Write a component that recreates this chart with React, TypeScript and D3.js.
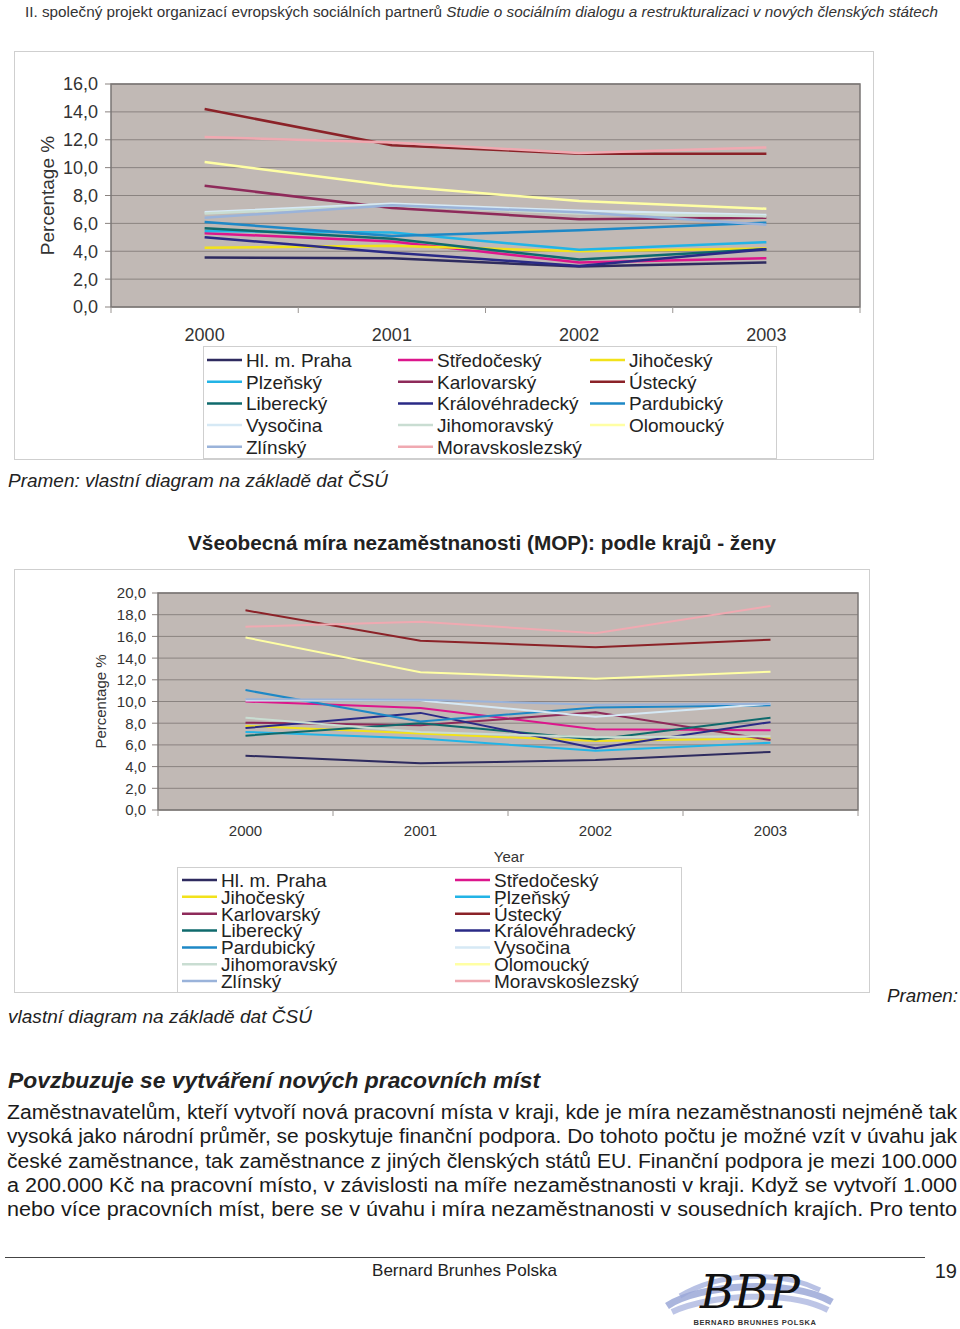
import React from 'react';
import * as d3 from 'd3';

const years = ['2000', '2001', '2002', '2003'];

const regions = [
  'Hl. m. Praha', 'Středočeský', 'Jihočeský', 'Plzeňský', 'Karlovarský', 'Ústecký',
  'Liberecký', 'Královéhradecký', 'Pardubický', 'Vysočina', 'Jihomoravský', 'Olomoucký',
  'Zlínský', 'Moravskoslezský',
];

const regionColors = [
  '#2E2B5F', '#DC168C', '#F2E21A', '#22B4E6', '#8E2A5A', '#8B2228',
  '#0F6A6C', '#2A2A86', '#1E88C6', '#D6E9F5', '#C9DDD2', '#FFFFA4',
  '#9AB3DA', '#F0A9B1',
];

// first chart (celkem / all), per region, 2000–2003
const topValues = [
  [3.55, 3.5, 2.9, 3.2],
  [5.3, 4.7, 3.2, 3.5],
  [4.25, 4.4, 4.0, 4.2],
  [5.45, 5.35, 4.1, 4.65],
  [8.7, 7.1, 6.3, 6.4],
  [14.2, 11.6, 11.0, 11.0],
  [5.65, 4.9, 3.4, 4.15],
  [5.0, 3.9, 2.95, 4.15],
  [6.1, 5.1, 5.5, 6.05],
  [6.8, 7.4, 6.9, 6.6],
  [6.7, 7.3, 6.7, 6.5],
  [10.4, 8.7, 7.6, 7.05],
  [6.4, 7.3, 6.8, 5.9],
  [12.2, 11.8, 11.05, 11.45],
];

// second chart (ženy / women)
const bottomValues = [
  [5.0, 4.3, 4.6, 5.35],
  [10.0, 9.4, 7.45, 7.35],
  [7.75, 7.05, 6.35, 6.6],
  [7.2, 6.6, 5.45, 6.2],
  [8.05, 7.8, 9.0, 6.45],
  [18.4, 15.6, 15.0, 15.7],
  [6.85, 8.0, 6.5, 8.5],
  [7.55, 8.95, 5.7, 8.1],
  [11.05, 8.15, 9.45, 9.65],
  [10.1, 10.1, 8.6, 9.8],
  [8.5, 7.2, 6.7, 6.8],
  [15.9, 12.7, 12.1, 12.75],
  [10.2, 10.15, 9.7, 9.8],
  [16.9, 17.35, 16.3, 18.8],
];

const topTicks = [0, 2, 4, 6, 8, 10, 12, 14, 16];
const bottomTicks = [0, 2, 4, 6, 8, 10, 12, 14, 16, 18, 20];

const bodyLines = [
  'Zaměstnavatelům, kteří vytvoří nová pracovní místa v kraji, kde je míra nezaměstnanosti nejméně tak',
  'vysoká jako národní průměr, se poskytuje finanční podpora. Do tohoto počtu je možné vzít v úvahu jak',
  'české zaměstnance, tak zaměstnance z jiných členských států EU. Finanční podpora je mezi 100.000',
  'a 200.000 Kč na pracovní místo, v závislosti na míře nezaměstnanosti v kraji. Když se vytvoří 1.000',
  'nebo více pracovních míst, bere se v úvahu i míra nezaměstnanosti v sousedních krajích. Pro tento',
];

const FONT = '"Liberation Sans", Arial, Helvetica, sans-serif';
const fmt = (v: number) => v.toFixed(1).replace('.', ',');

type ChartProps = {
  values: number[][];
  ticks: number[];
  left: number; top: number; right: number; bottom: number;
  labelSize: number; labelX: number; xLabelY: number;
  titleX: number; titleSize: number;
  lineWidth: number;
};

function LineChart(p: ChartProps) {
  const x = d3.scaleBand<string>().domain(years).range([p.left, p.right]).paddingInner(0).paddingOuter(0);
  const y = d3.scaleLinear().domain([0, d3.max(p.ticks) as number]).range([p.bottom, p.top]);
  const line = d3.line<number>()
    .x((_, i) => (x(years[i]) as number) + x.bandwidth() / 2)
    .y((v) => y(v));
  const bounds = years.map((yr) => x(yr) as number).concat([p.right]);
  return (
    <g fontFamily={FONT}>
      <rect x={p.left} y={p.top} width={p.right - p.left} height={p.bottom - p.top} fill="#C1B9B5" />
      {p.ticks.map((t) => (
        <g key={t}>
          <line x1={p.left} x2={p.right} y1={y(t)} y2={y(t)} stroke="#8A8380" strokeWidth={1} />
          <line x1={p.left - 6} x2={p.left} y1={y(t)} y2={y(t)} stroke="#8A8380" strokeWidth={1} />
          <text x={p.labelX} y={y(t)} dy="0.36em" textAnchor="end" fontSize={p.labelSize} fill="#333">{fmt(t)}</text>
        </g>
      ))}
      <rect x={p.left} y={p.top} width={p.right - p.left} height={p.bottom - p.top} fill="none" stroke="#7A7674" strokeWidth={1.5} />
      {bounds.map((b, i) => (
        <line key={i} x1={b} x2={b} y1={p.bottom} y2={p.bottom + 6} stroke="#9A9592" strokeWidth={1} />
      ))}
      {years.map((yr) => (
        <text key={yr} x={(x(yr) as number) + x.bandwidth() / 2} y={p.xLabelY} dy="0.36em" textAnchor="middle" fontSize={p.labelSize} fill="#333">{yr}</text>
      ))}
      <text transform={`translate(${p.titleX},${(p.top + p.bottom) / 2}) rotate(-90)`} textAnchor="middle" dy="0.36em" fontSize={p.titleSize} fill="#333">Percentage %</text>
      {p.values.map((vals, i) => (
        <path key={regions[i]} d={line(vals) as string} fill="none" stroke={regionColors[i]} strokeWidth={p.lineWidth} strokeLinejoin="round" />
      ))}
    </g>
  );
}

type LegendProps = {
  cols: number; colX: number[]; rowY0: number; rowStep: number; size: number; sample: number;
};

function Legend(p: LegendProps) {
  return (
    <g fontFamily={FONT}>
      {regions.map((r, i) => {
        const col = i % p.cols;
        const row = Math.floor(i / p.cols);
        const cx = p.colX[col];
        const cy = p.rowY0 + row * p.rowStep;
        return (
          <g key={r}>
            <line x1={cx} x2={cx + p.sample} y1={cy} y2={cy} stroke={regionColors[i]} strokeWidth={2.5} />
            <text x={cx + p.sample + 4} y={cy} dy="0.36em" fontSize={p.size} fill="#222">{r}</text>
          </g>
        );
      })}
    </g>
  );
}

export default function App() {
  return (
    <svg width={960} height={1329} style={{ position: 'absolute', left: 0, top: 0 }} fontFamily={FONT}>
      <rect width={960} height={1329} fill="#fff" />
      {/* header */}
      <text x={25} y={16.5} fontSize={15.5} fill="#333" textLength={913} lengthAdjust="spacingAndGlyphs">
        II. společný projekt organizací evropských sociálních partnerů <tspan fontStyle="italic">Studie o sociálním dialogu a restrukturalizaci v nových členských státech</tspan>
      </text>

      {/* top chart */}
      <rect x={14.5} y={51.5} width={859} height={408} fill="none" stroke="#CFCFCF" strokeWidth={1} />
      <LineChart values={topValues} ticks={topTicks} left={111} top={84} right={860} bottom={307}
        labelSize={18} labelX={98} xLabelY={335} titleX={47} titleSize={19} lineWidth={2.5} />
      <rect x={203.5} y={346.5} width={573} height={112} fill="#fff" stroke="#CFCFCF" strokeWidth={1} />
      <Legend cols={3} colX={[207, 398, 590]} rowY0={360} rowStep={21.7} size={19} sample={35} />
      <text x={8} y={487} fontSize={19} fontStyle="italic" fill="#222" textLength={380} lengthAdjust="spacingAndGlyphs">Pramen: vlastní diagram na základě dat ČSÚ</text>

      {/* bottom chart title */}
      <text x={188} y={550} fontSize={19.5} fontWeight="bold" fill="#222" textLength={588} lengthAdjust="spacingAndGlyphs">Všeobecná míra nezaměstnanosti (MOP): podle krajů - ženy</text>

      {/* bottom chart */}
      <rect x={14.5} y={569.5} width={855} height={423} fill="none" stroke="#CFCFCF" strokeWidth={1} />
      <LineChart values={bottomValues} ticks={bottomTicks} left={158} top={593} right={858} bottom={810}
        labelSize={15} labelX={146} xLabelY={831} titleX={101} titleSize={15} lineWidth={2} />
      <text x={509} y={857} dy="0.36em" textAnchor="middle" fontSize={15} fill="#333">Year</text>
      <rect x={177.5} y={867.5} width={504} height={125} fill="#fff" stroke="#CFCFCF" strokeWidth={1} />
      <Legend cols={2} colX={[182, 455]} rowY0={880} rowStep={16.85} size={19} sample={35} />
      <text x={8} y={1023} fontSize={19} fontStyle="italic" fill="#222" textLength={304} lengthAdjust="spacingAndGlyphs">vlastní diagram na základě dat ČSÚ</text>
      <text x={887} y={1002} fontSize={19} fontStyle="italic" fill="#222" textLength={71} lengthAdjust="spacingAndGlyphs">Pramen:</text>

      {/* body */}
      <text x={8} y={1088} fontSize={22} fontWeight="bold" fontStyle="italic" fill="#222" textLength={532} lengthAdjust="spacingAndGlyphs">Povzbuzuje se vytváření nových pracovních míst</text>
      {bodyLines.map((l, i) => (
        <text key={i} x={7} y={1119 + i * 24.3} fontSize={20} fill="#1a1a1a" textLength={950} lengthAdjust="spacingAndGlyphs">{l}</text>
      ))}

      {/* footer */}
      <line x1={5} x2={925} y1={1257.5} y2={1257.5} stroke="#444" strokeWidth={1} />
      <text x={372} y={1276} fontSize={17} fill="#222" textLength={185} lengthAdjust="spacingAndGlyphs">Bernard Brunhes Polska</text>
      <text x={957} y={1278} fontSize={20} fill="#222" textAnchor="end">19</text>

      {/* logo */}
      <g>
        <path d="M667,1306 C700,1284 790,1278 832,1302" fill="none" stroke="#8E9CD2" strokeWidth={7} opacity={0.75} />
        <path d="M672,1312 C710,1294 790,1290 828,1310" fill="none" stroke="#A7B2DE" strokeWidth={6} opacity={0.75} />
        <path d="M680,1296 C720,1272 780,1270 820,1290" fill="none" stroke="#9AA7D8" strokeWidth={5} opacity={0.7} />
        <text x={700} y={1308} fontFamily='"DejaVu Serif", serif' fontStyle="italic" fontSize={46} fill="#111" textLength={100} lengthAdjust="spacingAndGlyphs">BBP</text>
        <text x={755} y={1325} textAnchor="middle" fontSize={7.5} fontWeight="bold" fill="#333" letterSpacing={0.6}>BERNARD BRUNHES POLSKA</text>
      </g>
    </svg>
  );
}
